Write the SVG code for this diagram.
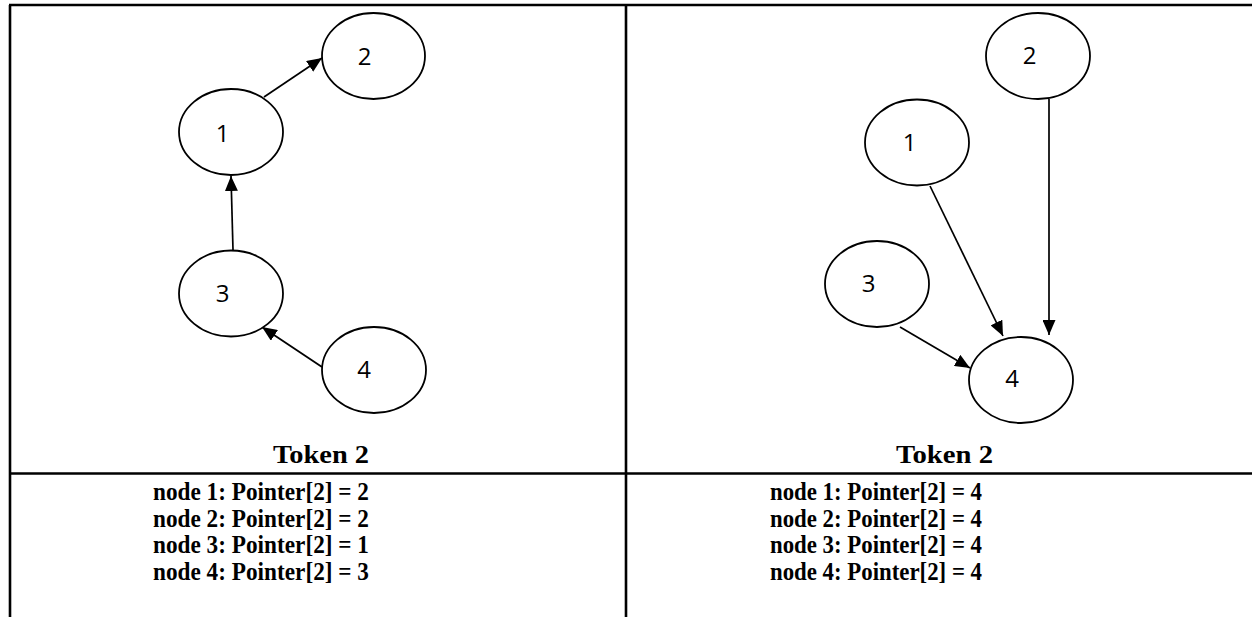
<svg xmlns="http://www.w3.org/2000/svg" width="1252" height="617" viewBox="0 0 1252 617">
  <style>
    .grid { stroke: #000; stroke-width: 2.6; fill: none; }
    .node ellipse { fill: #fff; stroke: #000; stroke-width: 1.8; }
    .node text { font-family: "Open Sans", "Liberation Sans", Arial, sans-serif; font-size: 24px; fill: #000; text-anchor: middle; }
    .edge { stroke: #000; stroke-width: 1.7; fill: none; marker-end: url(#arrow); }
    .cap { font-family: "Liberation Serif", "Times New Roman", serif; font-weight: bold; font-size: 25px; fill: #000; }
  </style>
  <defs>
    <marker id="arrow" markerUnits="userSpaceOnUse" markerWidth="15" markerHeight="13" refX="15" refY="6.5" orient="auto">
      <path d="M0,0 L15,6.5 L0,13 z" fill="#000"/>
    </marker>
  </defs>
  <rect width="1252" height="617" fill="#fff"/>

  <!-- table rules -->
  <g id="table">
    <line class="grid" x1="9" y1="5" x2="1252" y2="5"/>
    <line class="grid" x1="10" y1="5" x2="10" y2="617"/>
    <line class="grid" x1="626" y1="5" x2="626" y2="617"/>
    <line class="grid" x1="9" y1="473.5" x2="1252" y2="473.5"/>
  </g>

  <!-- connectors -->
  <g id="connectors">
    <line class="edge" x1="264" y1="97" x2="322" y2="58"/>
    <line class="edge" x1="233" y1="250" x2="231" y2="176"/>
    <line class="edge" x1="322" y1="367" x2="262" y2="327"/>
    <line class="edge" x1="930" y1="186" x2="1003" y2="336"/>
    <line class="edge" x1="1049" y1="99" x2="1049" y2="335"/>
    <line class="edge" x1="900" y1="327" x2="970" y2="368"/>
  </g>

  <!-- left graph -->
  <g id="L1" class="node"><ellipse cx="231" cy="132" rx="52" ry="43"/><text x="222.5" y="141.5">1</text></g>
  <g id="L2" class="node"><ellipse cx="373.5" cy="56" rx="51.5" ry="43"/><text x="364.5" y="65">2</text></g>
  <g id="L3" class="node"><ellipse cx="231" cy="293.5" rx="52" ry="43"/><text x="222.5" y="301.5">3</text></g>
  <g id="L4" class="node"><ellipse cx="374" cy="370" rx="52" ry="43"/><text x="364" y="377.5">4</text></g>

  <!-- right graph -->
  <g id="R2" class="node"><ellipse cx="1038" cy="56" rx="52" ry="43"/><text x="1029.5" y="64">2</text></g>
  <g id="R1" class="node"><ellipse cx="917" cy="142.5" rx="52" ry="43"/><text x="909.5" y="150.5">1</text></g>
  <g id="R3" class="node"><ellipse cx="877" cy="284" rx="52" ry="43"/><text x="868.5" y="291.5">3</text></g>
  <g id="R4" class="node"><ellipse cx="1021" cy="380" rx="52" ry="43"/><text x="1012" y="386.5">4</text></g>

  <!-- captions -->
  <g id="captions">
    <text class="cap" x="273" y="463" textLength="96" lengthAdjust="spacingAndGlyphs">Token 2</text>
    <text class="cap" x="896" y="463" textLength="97" lengthAdjust="spacingAndGlyphs">Token 2</text>

    <text class="cap" x="153" y="500" textLength="216" lengthAdjust="spacingAndGlyphs">node 1: Pointer[2] = 2</text>
    <text class="cap" x="153" y="526.5" textLength="216" lengthAdjust="spacingAndGlyphs">node 2: Pointer[2] = 2</text>
    <text class="cap" x="153" y="553" textLength="216" lengthAdjust="spacingAndGlyphs">node 3: Pointer[2] = 1</text>
    <text class="cap" x="153" y="579.5" textLength="216" lengthAdjust="spacingAndGlyphs">node 4: Pointer[2] = 3</text>

    <text class="cap" x="770" y="500" textLength="212" lengthAdjust="spacingAndGlyphs">node 1: Pointer[2] = 4</text>
    <text class="cap" x="770" y="526.5" textLength="212" lengthAdjust="spacingAndGlyphs">node 2: Pointer[2] = 4</text>
    <text class="cap" x="770" y="553" textLength="212" lengthAdjust="spacingAndGlyphs">node 3: Pointer[2] = 4</text>
    <text class="cap" x="770" y="579.5" textLength="212" lengthAdjust="spacingAndGlyphs">node 4: Pointer[2] = 4</text>
  </g>
</svg>
